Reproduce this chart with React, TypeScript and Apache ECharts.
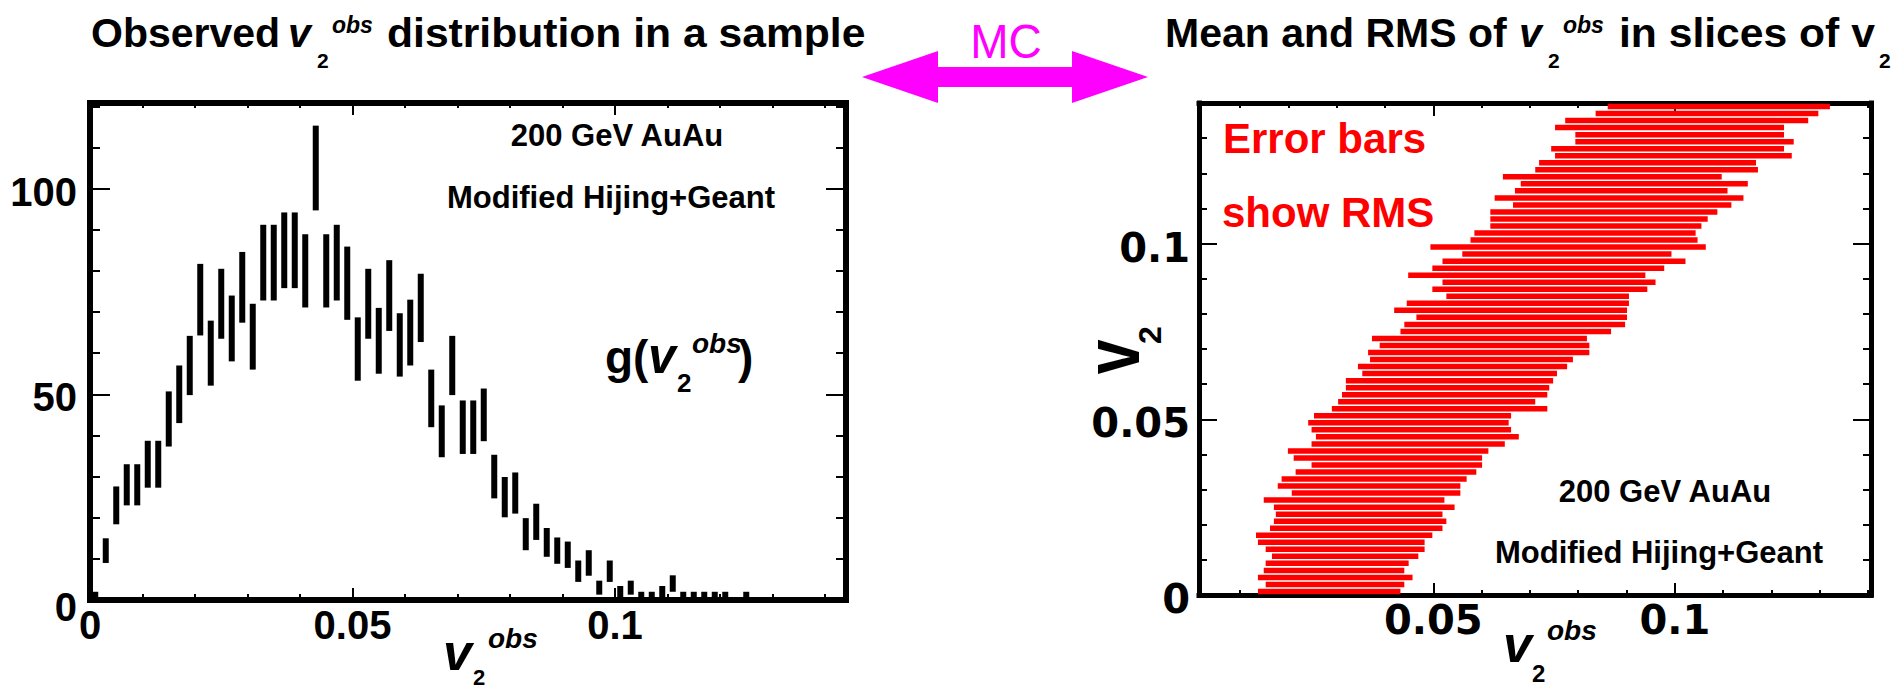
import React, { useEffect, useRef } from "react";
import * as echarts from "echarts";

// ---- Left panel: observed v2 histogram (bin width 0.002, error = sqrt(N)) ----
const histBinWidth = 0.002;
const histCounts = [
  1, 12, 23, 28, 28, 33, 33, 44, 50, 57, 73, 60, 72, 66, 76, 64, 82, 82, 85, 85,
  80, 105, 80, 82, 77, 61, 72, 63, 74, 62, 65, 71, 49, 41, 57, 42, 42, 45, 30, 25,
  26, 16, 19, 14, 12, 11, 7, 9, 3, 7, 2, 3, 1, 1, 2, 4, 1, 1, 1, 1,
  1, 0, 1,
];
const histErrors = [
  1, 3, 4.6, 5, 5, 5.7, 5.7, 6.7, 7, 7.2, 8.7, 7.9, 8.5, 8, 8.6, 8, 9.2, 9.2, 9.2, 9.2,
  8.9, 10.3, 8.9, 9.2, 8.9, 7.7, 8.5, 8, 8.6, 7.7, 8, 8.3, 7, 6.3, 7.2, 6.5, 6.5, 6.4, 5.3, 4.9,
  5, 3.9, 4.4, 3.5, 3.2, 3.2, 2.6, 3.1, 1.7, 2.6, 1.4, 1.7, 1, 1, 1.4, 2, 1, 1, 1, 1,
  1, 0, 1,
];

// ---- Right panel: mean -/+ RMS of observed v2 in slices of true v2 (slice width 0.002) ----
const sliceWidth = 0.002;
const rmsLow = [
  0.0137, 0.0153, 0.0137, 0.0149, 0.0153, 0.0166, 0.0153, 0.0137, 0.0133, 0.0162,
  0.0170, 0.0174, 0.0170, 0.0149, 0.0207, 0.0178, 0.0186, 0.0215, 0.0248, 0.0211,
  0.0199, 0.0248, 0.0257, 0.0248, 0.0241, 0.0253, 0.0290, 0.0303, 0.0311, 0.0319,
  0.0319, 0.0353, 0.0344, 0.0369, 0.0365, 0.0389, 0.0373, 0.0432, 0.0440, 0.0465,
  0.0419, 0.0445, 0.0527, 0.0498, 0.0519, 0.0448, 0.0498, 0.0519, 0.0560, 0.0494,
  0.0577, 0.0585, 0.0618, 0.0618, 0.0618, 0.0665, 0.0627, 0.0669, 0.0681, 0.0644,
  0.0711, 0.0719, 0.0752, 0.0744, 0.0794, 0.0794, 0.0752, 0.0773, 0.0836, 0.0861,
];
const rmsHigh = [
  0.0432, 0.0440, 0.0457, 0.0440, 0.0449, 0.0469, 0.0482, 0.0482, 0.0498, 0.0519,
  0.0527, 0.0519, 0.0544, 0.0523, 0.0556, 0.0556, 0.0569, 0.0589, 0.0601, 0.0601,
  0.0614, 0.0648, 0.0677, 0.0661, 0.0656, 0.0661, 0.0736, 0.0711, 0.0736, 0.0740,
  0.0748, 0.0756, 0.0777, 0.0789, 0.0823, 0.0823, 0.0818, 0.0868, 0.0897, 0.0901,
  0.0901, 0.0905, 0.0905, 0.0943, 0.0960, 0.0939, 0.0978, 0.1022, 0.0993, 0.1064,
  0.1047, 0.1043, 0.1055, 0.1068, 0.1088, 0.1117, 0.1142, 0.1109, 0.1151, 0.1097,
  0.1172, 0.1168, 0.1242, 0.1226, 0.1246, 0.1226, 0.1226, 0.1276, 0.1297, 0.1321,
];

// Labelled tick values
const obsTicks = [0, 0.05, 0.1];
const countTicks = [0, 50, 100];
const v2Ticks = [0, 0.05, 0.1];

const SANS = '"Liberation Sans", Arial, Helvetica, sans-serif';
const DEJAVU = '"DejaVu Sans", Verdana, sans-serif';

type TextOpts = {
  weight?: string;
  italic?: boolean;
  color?: string;
  align?: string;
  family?: string;
  scaleX?: number;
};

// Text placed by its baseline
function txt(text: string, x: number, baseline: number, size: number, o: TextOpts = {}) {
  return {
    type: "text",
    x,
    y: baseline - 0.35 * size,
    scaleX: o.scaleX ?? 1,
    silent: true,
    style: {
      text,
      fill: o.color ?? "#000",
      fontFamily: o.family ?? SANS,
      fontSize: size,
      fontWeight: o.weight ?? "bold",
      fontStyle: o.italic ? "italic" : "normal",
      align: o.align ?? "left",
      verticalAlign: "middle",
    },
  };
}

// Tick label: only the listed values are printed; labels sit slightly below their tick
function tickLabels(family: string, ticks: number[], margin: number, drop = 0, zeroDrop = drop) {
  const base = { fontFamily: family, fontWeight: "bold", fontSize: 40, color: "#000" };
  return {
    show: true,
    margin,
    ...base,
    formatter: (v: number) => {
      const hit = ticks.find((t) => Math.abs(t - v) < 1e-7);
      if (hit === undefined) return "";
      return hit === 0 ? `{z|${hit}}` : `{n|${hit}}`;
    },
    rich: {
      n: { ...base, padding: [drop * 2, 0, 0, 0] },
      z: { ...base, padding: [zeroDrop * 2, 0, 0, 0] },
    },
  };
}

function frameAxis(
  gridIndex: number,
  position: string,
  range: [number, number],
  lineW: number,
  majorLen: number,
  minorLen: number,
  label: any,
  extra: any = {}
) {
  return {
    type: "value",
    gridIndex,
    position,
    min: range[0],
    max: range[1],
    ...extra,
    axisLine: { show: true, onZero: false, lineStyle: { color: "#000", width: lineW, cap: "square" } },
    axisTick: { show: true, inside: true, length: majorLen, lineStyle: { color: "#000", width: 2 } },
    minorTick: { show: true, splitNumber: 5, length: minorLen, lineStyle: { color: "#000", width: 2 } },
    splitLine: { show: false },
    minorSplitLine: { show: false },
    axisLabel: label,
  };
}

export default function App() {
  const ref = useRef<HTMLDivElement>(null);

  useEffect(() => {
    if (!ref.current) return;
    const chart = echarts.init(ref.current, undefined, { renderer: "svg" });

    const histData = histCounts.map((c, i) => [(i + 0.5) * histBinWidth, c, histErrors[i]]);
    const sliceData = rmsLow.map((lo, k) => [lo, rmsHigh[k], (k + 0.5) * sliceWidth]);

    const aY = 77;
    const titleBase = 47.5;
    const graphic: any[] = [
      // panel titles
      txt("Observed", 91, titleBase, 41),
      txt("v", 288, titleBase, 41, { italic: true }),
      txt("2", 317, 68, 21),
      txt("obs", 332, 33, 23, { italic: true }),
      txt("distribution in a sample", 387, titleBase, 41, { scaleX: 1.04 }),

      txt("Mean and RMS of", 1165, titleBase, 41),
      txt("v", 1519, titleBase, 41, { italic: true }),
      txt("2", 1548, 68, 21),
      txt("obs", 1563, 33, 23, { italic: true }),
      txt("in slices of v", 1619, titleBase, 41, { scaleX: 1.04 }),
      txt("2", 1879, 68, 21),

      // MC double arrow
      txt("MC", 1006, 58, 48, { weight: "normal", color: "#ff00ff", align: "center", scaleX: 0.96 }),
      {
        type: "polygon",
        silent: true,
        shape: {
          points: [
            [862, aY],
            [938, aY - 26],
            [938, aY - 10],
            [1072, aY - 10],
            [1072, aY - 26],
            [1148, aY],
            [1072, aY + 26],
            [1072, aY + 10],
            [938, aY + 10],
            [938, aY + 26],
          ],
        },
        style: { fill: "#ff00ff" },
      },

      // left panel annotations
      txt("200 GeV AuAu", 617, 146, 31, { align: "center" }),
      txt("Modified Hijing+Geant", 611, 208, 31, { align: "center" }),
      txt("g(", 605, 373, 46),
      txt("v", 648, 373, 50, { italic: true }),
      txt("2", 677, 392, 26),
      txt("obs", 692, 353, 28, { italic: true }),
      txt(")", 738, 373, 46),

      // left x title
      txt("v", 443, 670, 52, { italic: true }),
      txt("2", 473, 685, 22),
      txt("obs", 488, 648, 28, { italic: true }),

      // right panel annotations
      txt("Error bars", 1223, 153, 42, { color: "#ff0000" }),
      txt("show RMS", 1222, 227, 42, { color: "#ff0000" }),
      txt("200 GeV AuAu", 1665, 502, 31, { align: "center" }),
      txt("Modified Hijing+Geant", 1659, 563, 31, { align: "center" }),

      // right x title
      txt("v", 1503, 662, 52, { italic: true }),
      txt("2", 1532, 682, 24),
      txt("obs", 1547, 640, 28, { italic: true }),

      // right y title (rotated)
      {
        type: "text",
        x: 1112,
        y: 357,
        rotation: Math.PI / 2,
        scaleX: 0.8,
        silent: true,
        style: { text: "v", fill: "#000", fontFamily: SANS, fontSize: 78, fontWeight: "bold", align: "center", verticalAlign: "middle" },
      },
      {
        type: "text",
        x: 1150,
        y: 335,
        rotation: Math.PI / 2,
        silent: true,
        style: { text: "2", fill: "#000", fontFamily: SANS, fontSize: 32, fontWeight: "bold", align: "center", verticalAlign: "middle" },
      },
    ];

    const fixed50 = { interval: 0.05 };
    const nice50 = { minInterval: 0.05, maxInterval: 0.05, splitNumber: 3 };

    chart.setOption({
      animation: false,
      backgroundColor: "#fff",
      grid: [
        { left: 90, top: 103, width: 756, height: 497 },
        { left: 1199, top: 103, width: 672, height: 492 },
      ],
      xAxis: [
        frameAxis(0, "bottom", [0, 0.144], 6, 12, 6, tickLabels(SANS, obsTicks, 5), fixed50),
        frameAxis(0, "top", [0, 0.144], 6, 12, 5, { show: false }, fixed50),
        frameAxis(1, "bottom", [0.0015, 0.1406], 5, 12, 5, tickLabels(DEJAVU, obsTicks, 5), nice50),
        frameAxis(1, "top", [0.0015, 0.1406], 5, 13, 5, { show: false }, nice50),
      ],
      yAxis: [
        frameAxis(0, "left", [0, 120.8], 6, 20, 10, tickLabels(SANS, countTicks, 13, 3, 7), { interval: 50 }),
        frameAxis(0, "right", [0, 120.8], 6, 20, 10, { show: false }, { interval: 50 }),
        frameAxis(1, "left", [0, 0.14], 5, 18, 8, tickLabels(DEJAVU, v2Ticks, 9, 4, 4), fixed50),
        frameAxis(1, "right", [0, 0.14], 5, 18, 8, { show: false }, fixed50),
      ],
      graphic,
      series: [
        {
          type: "custom",
          xAxisIndex: 0,
          yAxisIndex: 0,
          encode: { x: 0, y: 1 },
          data: histData,
          renderItem: (_p: any, api: any) => {
            const x = api.value(0);
            const c = api.value(1);
            const e = api.value(2);
            if (e <= 0) return null;
            const top = api.coord([x, c + e]);
            const bot = api.coord([x, Math.max(0, c - e)]);
            const w = 6;
            return {
              type: "rect",
              shape: { x: top[0] - w / 2, y: top[1], width: w, height: bot[1] - top[1] },
              style: { fill: "#000" },
            };
          },
        },
        {
          type: "custom",
          xAxisIndex: 2,
          yAxisIndex: 2,
          encode: { x: [0, 1], y: 2 },
          data: sliceData,
          renderItem: (_p: any, api: any) => {
            const lo = api.value(0);
            const hi = api.value(1);
            const y = api.value(2);
            const a = api.coord([lo, y]);
            const b = api.coord([hi, y]);
            const h = 5.5;
            return {
              type: "rect",
              shape: { x: a[0], y: a[1] - h / 2, width: b[0] - a[0], height: h },
              style: { fill: "#ff0000" },
            };
          },
        },
      ],
    });

    return () => chart.dispose();
  }, []);

  return (
    <div
      ref={ref}
      style={{ position: "fixed", left: 0, top: 0, width: 1901, height: 690, background: "#fff" }}
    />
  );
}
